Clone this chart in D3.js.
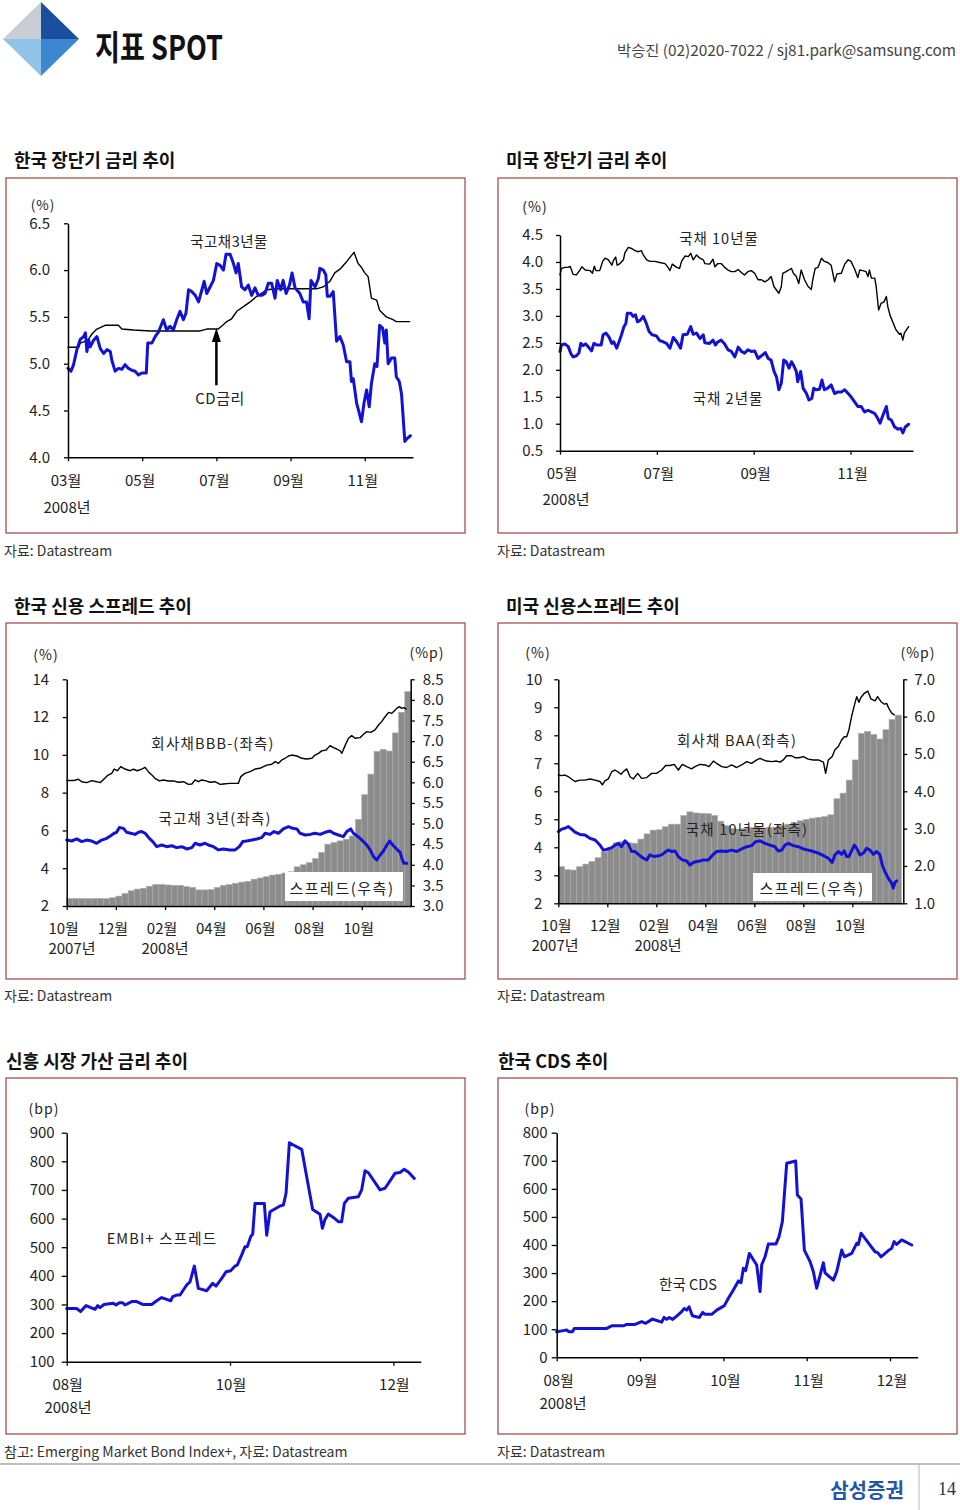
<!DOCTYPE html>
<html><head><meta charset="utf-8">
<script src="https://cdn.jsdelivr.net/npm/d3@7"></script>
<style>html,body{margin:0;padding:0;background:#fff;}svg{display:block;}</style>
</head><body>
<svg id="page" width="960" height="1510"></svg>
<script>
// ---------------- DATA (x = month index; 2008 months for charts 1,2,5,6; Oct-2007 = 10 ... Dec-2008 = 24 for charts 3,4) ----------------
const krCD = [[3.00,5.175],[3.29,5.175],[3.33,5.22],[3.53,5.25],[3.65,5.32],[3.78,5.37],[4.00,5.41],[4.36,5.41],[4.45,5.37],[4.77,5.36],[5.22,5.35],[6.56,5.35],[6.74,5.37],[7.05,5.37],[7.17,5.41],[7.28,5.45],[7.41,5.48],[7.55,5.56],[7.73,5.61],[7.91,5.66],[8.09,5.72],[8.36,5.79],[8.62,5.80],[9.70,5.80],[9.88,5.82],[10.06,5.88],[10.19,5.97],[10.33,6.01],[10.51,6.09],[10.71,6.19],[10.82,6.07],[10.91,6.03],[11.00,5.97],[11.09,5.93],[11.18,5.70],[11.32,5.68],[11.40,5.57],[11.58,5.50],[11.76,5.47],[11.85,5.45],[12.21,5.45]];
const krGov3y = [[3.00,4.95],[3.08,4.92],[3.15,4.99],[3.24,5.15],[3.33,5.26],[3.42,5.29],[3.47,5.33],[3.51,5.13],[3.56,5.25],[3.60,5.18],[3.69,5.25],[3.78,5.29],[3.87,5.16],[3.96,5.11],[4.05,5.15],[4.14,5.13],[4.18,5.04],[4.27,4.92],[4.36,4.95],[4.45,4.94],[4.54,4.99],[4.63,4.95],[4.72,4.93],[4.81,4.92],[4.90,4.88],[4.99,4.90],[5.11,4.90],[5.15,5.22],[5.26,5.22],[5.35,5.29],[5.44,5.34],[5.57,5.47],[5.66,5.36],[5.75,5.40],[5.84,5.36],[5.93,5.47],[6.02,5.56],[6.11,5.47],[6.18,5.54],[6.25,5.79],[6.34,5.77],[6.43,5.73],[6.52,5.66],[6.61,5.79],[6.67,5.88],[6.74,5.75],[6.83,5.82],[6.92,5.89],[7.01,6.07],[7.10,6.05],[7.19,6.00],[7.26,6.17],[7.37,6.17],[7.46,6.07],[7.53,5.97],[7.59,6.07],[7.68,5.82],[7.77,5.79],[7.86,5.84],[7.95,5.73],[8.04,5.81],[8.13,5.73],[8.22,5.73],[8.31,5.75],[8.40,5.86],[8.49,5.86],[8.58,5.70],[8.64,5.89],[8.73,5.79],[8.80,5.89],[8.88,5.75],[8.97,5.84],[9.04,5.97],[9.12,5.81],[9.25,5.75],[9.34,5.66],[9.43,5.66],[9.50,5.48],[9.55,5.89],[9.66,5.82],[9.75,5.91],[9.79,6.02],[9.88,6.00],[9.95,5.95],[9.99,5.72],[10.06,5.72],[10.15,5.77],[10.24,5.24],[10.33,5.29],[10.42,5.20],[10.51,5.02],[10.60,5.02],[10.64,4.81],[10.69,4.84],[10.78,4.58],[10.82,4.52],[10.91,4.38],[10.98,4.58],[11.05,4.72],[11.12,4.54],[11.18,4.79],[11.27,5.00],[11.33,4.97],[11.40,5.41],[11.48,5.38],[11.54,5.22],[11.58,5.36],[11.63,5.00],[11.72,5.06],[11.81,5.06],[11.85,4.86],[11.93,4.81],[11.99,4.68],[12.08,4.17],[12.14,4.20],[12.23,4.23]];

const usT10 = [[5.00,3.76],[5.03,3.88],[5.10,3.90],[5.17,3.90],[5.21,3.92],[5.27,3.77],[5.34,3.76],[5.41,3.85],[5.45,3.91],[5.52,3.85],[5.62,3.84],[5.67,3.79],[5.71,3.92],[5.74,3.84],[5.82,3.84],[5.88,4.01],[5.93,4.07],[6.00,4.04],[6.07,3.94],[6.11,4.04],[6.15,4.09],[6.18,3.94],[6.24,3.97],[6.31,4.04],[6.34,4.17],[6.41,4.27],[6.48,4.25],[6.55,4.21],[6.62,4.19],[6.68,4.21],[6.72,4.13],[6.79,4.04],[6.86,4.01],[6.96,4.01],[7.06,3.99],[7.17,3.97],[7.23,3.90],[7.27,3.84],[7.32,3.96],[7.41,3.90],[7.47,3.88],[7.51,4.01],[7.58,4.11],[7.65,4.10],[7.70,4.16],[7.75,4.04],[7.82,4.13],[7.89,4.07],[7.96,4.04],[7.99,3.97],[8.09,3.96],[8.16,4.05],[8.20,3.91],[8.26,3.97],[8.33,3.97],[8.40,3.90],[8.47,3.85],[8.54,3.82],[8.61,3.82],[8.68,3.86],[8.75,3.80],[8.81,3.76],[8.88,3.82],[8.95,3.84],[9.02,3.79],[9.09,3.67],[9.16,3.67],[9.23,3.63],[9.30,3.67],[9.36,3.73],[9.42,3.54],[9.47,3.48],[9.52,3.42],[9.57,3.54],[9.60,3.79],[9.67,3.82],[9.74,3.86],[9.78,3.88],[9.82,3.79],[9.88,3.73],[9.93,3.60],[9.98,3.85],[10.05,3.67],[10.12,3.55],[10.19,3.49],[10.22,3.67],[10.27,3.88],[10.33,3.90],[10.40,4.07],[10.46,4.01],[10.53,3.99],[10.60,3.94],[10.67,3.63],[10.72,3.78],[10.81,3.79],[10.88,3.96],[10.95,4.04],[11.01,4.01],[11.08,3.88],[11.15,3.71],[11.19,3.85],[11.25,3.84],[11.32,3.82],[11.36,3.73],[11.39,3.85],[11.43,3.70],[11.50,3.70],[11.53,3.54],[11.58,3.11],[11.63,3.23],[11.69,3.26],[11.74,3.36],[11.77,3.17],[11.82,3.00],[11.87,2.89],[11.94,2.74],[12.01,2.66],[12.04,2.68],[12.08,2.55],[12.11,2.68],[12.20,2.80]];
const usT2 = [[5.00,2.34],[5.03,2.46],[5.10,2.48],[5.17,2.43],[5.23,2.29],[5.27,2.24],[5.34,2.26],[5.39,2.31],[5.43,2.49],[5.48,2.45],[5.53,2.48],[5.58,2.43],[5.65,2.35],[5.70,2.49],[5.76,2.46],[5.85,2.46],[5.89,2.65],[5.95,2.68],[6.01,2.61],[6.07,2.49],[6.11,2.52],[6.17,2.40],[6.22,2.52],[6.27,2.65],[6.32,2.80],[6.36,2.86],[6.39,3.05],[6.46,3.05],[6.51,2.99],[6.56,3.02],[6.60,2.89],[6.66,2.92],[6.72,2.99],[6.77,2.89],[6.84,2.71],[6.90,2.65],[6.99,2.63],[7.06,2.54],[7.13,2.52],[7.20,2.49],[7.27,2.40],[7.34,2.60],[7.41,2.52],[7.49,2.40],[7.54,2.65],[7.63,2.66],[7.70,2.80],[7.75,2.66],[7.82,2.68],[7.89,2.58],[7.96,2.65],[7.99,2.50],[8.09,2.49],[8.16,2.55],[8.21,2.46],[8.26,2.52],[8.33,2.55],[8.40,2.48],[8.47,2.37],[8.54,2.34],[8.61,2.24],[8.68,2.42],[8.75,2.34],[8.81,2.31],[8.88,2.37],[8.95,2.34],[9.02,2.35],[9.09,2.21],[9.16,2.26],[9.24,2.32],[9.30,2.21],[9.36,2.18],[9.42,1.97],[9.47,1.87],[9.52,1.63],[9.57,1.75],[9.62,2.18],[9.67,2.15],[9.73,2.03],[9.78,2.15],[9.82,2.09],[9.88,1.97],[9.91,1.78],[9.97,1.97],[10.02,1.66],[10.09,1.56],[10.14,1.44],[10.20,1.47],[10.24,1.66],[10.29,1.63],[10.36,1.64],[10.41,1.81],[10.46,1.63],[10.53,1.66],[10.60,1.72],[10.67,1.56],[10.74,1.59],[10.81,1.59],[10.88,1.63],[10.95,1.56],[11.01,1.50],[11.08,1.41],[11.15,1.32],[11.22,1.32],[11.29,1.22],[11.36,1.25],[11.43,1.22],[11.50,1.19],[11.56,1.10],[11.61,1.01],[11.67,1.16],[11.74,1.32],[11.78,1.10],[11.84,1.07],[11.91,0.94],[11.98,0.90],[12.04,0.91],[12.08,0.83],[12.13,0.94],[12.20,0.99]];

const krBBB = [[10.00,8.64],[10.27,8.64],[10.47,8.71],[10.61,8.58],[10.81,8.53],[11.02,8.64],[11.22,8.58],[11.36,8.53],[11.52,8.72],[11.65,8.90],[11.83,9.02],[11.93,9.25],[12.06,9.16],[12.20,9.38],[12.37,9.25],[12.58,9.16],[12.71,9.24],[12.87,9.16],[13.05,9.25],[13.19,9.34],[13.32,9.11],[13.46,8.94],[13.59,8.76],[13.77,8.62],[13.93,8.67],[14.14,8.62],[14.34,8.62],[14.54,8.55],[14.75,8.58],[14.95,8.44],[15.09,8.46],[15.22,8.67],[15.36,8.58],[15.49,8.67],[15.67,8.62],[15.83,8.55],[16.03,8.58],[16.24,8.44],[16.37,8.46],[16.64,8.49],[16.98,8.49],[17.08,8.85],[17.25,9.02],[17.46,9.11],[17.66,9.25],[17.86,9.29],[18.00,9.38],[18.14,9.46],[18.34,9.50],[18.48,9.64],[18.61,9.55],[18.75,9.73],[18.88,9.82],[19.02,9.94],[19.15,9.99],[19.36,9.94],[19.56,9.82],[19.76,9.78],[19.97,9.82],[20.10,9.99],[20.24,10.08],[20.37,10.21],[20.55,10.26],[20.71,10.49],[20.85,10.38],[20.98,10.31],[21.12,10.21],[21.19,10.08],[21.32,10.49],[21.46,10.88],[21.59,11.02],[21.73,10.88],[21.93,10.91],[22.07,11.09],[22.20,11.23],[22.37,11.19],[22.54,11.32],[22.68,11.58],[22.81,11.76],[22.95,12.02],[23.09,12.25],[23.22,12.20],[23.32,12.32],[23.42,12.46],[23.53,12.55],[23.63,12.46],[23.72,12.50],[23.80,12.43]];
const krGov3yLong = [[10.00,5.49],[10.20,5.44],[10.41,5.55],[10.61,5.41],[10.81,5.49],[11.02,5.44],[11.22,5.32],[11.42,5.49],[11.63,5.58],[11.79,5.72],[11.93,5.85],[12.03,5.90],[12.14,6.15],[12.31,6.11],[12.44,5.90],[12.60,5.85],[12.78,5.79],[12.92,5.90],[13.05,5.94],[13.19,5.85],[13.36,5.58],[13.50,5.41],[13.66,5.14],[13.86,5.23],[14.07,5.14],[14.27,5.19],[14.47,5.09],[14.68,5.14],[14.88,5.02],[15.09,5.09],[15.22,5.32],[15.42,5.23],[15.63,5.32],[15.76,5.23],[15.97,5.14],[16.17,4.97],[16.37,5.02],[16.64,4.97],[16.85,4.97],[17.02,5.14],[17.16,5.41],[17.32,5.44],[17.53,5.49],[17.73,5.55],[17.93,5.62],[18.07,5.85],[18.27,5.79],[18.43,5.94],[18.61,5.85],[18.81,6.08],[19.02,6.20],[19.19,6.11],[19.36,6.08],[19.49,5.85],[19.70,5.76],[19.90,5.79],[20.10,5.85],[20.31,5.79],[20.51,5.90],[20.71,5.97],[20.85,5.85],[21.05,5.76],[21.25,5.67],[21.39,5.94],[21.55,6.08],[21.66,5.85],[21.80,5.72],[21.93,5.58],[22.07,5.41],[22.20,5.23],[22.34,4.97],[22.48,4.61],[22.61,4.44],[22.75,4.70],[22.88,4.91],[23.02,5.23],[23.13,5.44],[23.26,5.23],[23.42,5.02],[23.56,4.84],[23.63,4.52],[23.72,4.26],[23.83,4.26]];
const krSpread = [[10.00,3.18],[10.25,3.18],[10.50,3.18],[10.75,3.18],[11.00,3.18],[11.25,3.18],[11.50,3.18],[11.75,3.20],[12.00,3.24],[12.25,3.30],[12.50,3.37],[12.75,3.41],[13.00,3.43],[13.25,3.48],[13.50,3.52],[13.75,3.52],[14.00,3.51],[14.25,3.50],[14.50,3.50],[14.75,3.47],[15.00,3.45],[15.25,3.39],[15.50,3.39],[15.75,3.40],[16.00,3.45],[16.25,3.50],[16.50,3.52],[16.75,3.55],[17.00,3.58],[17.25,3.60],[17.50,3.65],[17.75,3.68],[18.00,3.71],[18.25,3.75],[18.50,3.77],[18.75,3.80],[19.00,3.83],[19.25,3.95],[19.50,4.00],[19.75,4.05],[20.00,4.15],[20.25,4.30],[20.50,4.50],[20.75,4.54],[21.00,4.58],[21.25,4.62],[21.50,4.70],[21.75,5.10],[22.00,5.70],[22.25,6.20],[22.50,6.75],[22.75,6.80],[23.00,6.76],[23.25,7.20],[23.50,7.70],[23.75,8.20]];

const usBAA = [[10.00,6.58],[10.14,6.56],[10.27,6.58],[10.41,6.52],[10.54,6.44],[10.68,6.35],[10.88,6.40],[11.09,6.40],[11.29,6.44],[11.50,6.40],[11.70,6.35],[11.80,6.23],[11.90,6.37],[12.04,6.44],[12.18,6.70],[12.31,6.76],[12.45,6.68],[12.56,6.61],[12.65,6.70],[12.79,6.80],[12.93,6.52],[13.06,6.44],[13.24,6.64],[13.40,6.46],[13.61,6.49],[13.81,6.64],[14.01,6.64],[14.22,6.76],[14.38,6.92],[14.56,6.92],[14.73,6.96],[14.90,6.76],[15.06,6.96],[15.24,6.88],[15.44,6.80],[15.58,6.88],[15.78,6.96],[15.99,6.94],[16.15,6.88],[16.33,7.08],[16.46,7.00],[16.67,6.88],[16.87,6.85],[17.07,6.94],[17.28,6.85],[17.48,6.94],[17.69,7.06],[17.89,7.00],[18.10,7.12],[18.23,7.18],[18.37,7.12],[18.50,7.08],[18.71,7.06],[18.91,7.08],[19.05,7.04],[19.18,7.12],[19.32,7.27],[19.52,7.27],[19.66,7.20],[19.82,7.20],[20.00,7.24],[20.20,7.15],[20.41,7.12],[20.61,7.12],[20.82,7.04],[20.91,6.64],[21.02,7.12],[21.18,7.24],[21.29,7.48],[21.43,7.60],[21.56,7.83],[21.67,7.95],[21.77,7.95],[21.86,8.19],[21.97,8.67],[22.08,9.06],[22.18,9.38],[22.27,9.18],[22.35,9.35],[22.49,9.50],[22.63,9.58],[22.76,9.30],[22.93,9.23],[23.03,9.38],[23.17,9.20],[23.31,9.11],[23.40,9.14],[23.50,8.94],[23.61,8.79],[23.71,8.73]];
const usT10Long = [[10.00,4.56],[10.14,4.65],[10.27,4.68],[10.41,4.74],[10.54,4.65],[10.68,4.54],[10.88,4.46],[11.09,4.44],[11.29,4.32],[11.50,4.26],[11.70,4.08],[11.84,3.90],[12.04,3.94],[12.18,3.99],[12.31,4.08],[12.45,4.14],[12.58,4.02],[12.72,4.23],[12.86,4.11],[12.99,3.85],[13.13,3.85],[13.29,3.73],[13.47,3.61],[13.61,3.55],[13.74,3.73],[13.92,3.67],[14.08,3.70],[14.22,3.73],[14.35,3.82],[14.49,3.90],[14.63,3.85],[14.76,3.87],[14.90,3.67],[15.06,3.55],[15.24,3.51],[15.37,3.37],[15.51,3.46],[15.65,3.49],[15.78,3.51],[15.92,3.55],[16.12,3.55],[16.33,3.75],[16.46,3.85],[16.67,3.87],[16.87,3.85],[17.07,3.90],[17.28,3.85],[17.48,3.94],[17.69,4.02],[17.89,4.06],[18.05,4.20],[18.23,4.23],[18.44,4.14],[18.64,4.08],[18.84,4.02],[18.98,3.87],[19.12,3.90],[19.25,4.08],[19.39,4.14],[19.59,4.06],[19.80,4.02],[20.00,3.94],[20.20,3.90],[20.41,3.85],[20.61,3.79],[20.82,3.70],[21.02,3.61],[21.18,3.46],[21.29,3.73],[21.43,3.85],[21.56,3.75],[21.67,3.87],[21.77,3.67],[21.86,3.67],[21.97,3.87],[22.08,4.08],[22.18,3.96],[22.31,3.73],[22.45,3.79],[22.58,3.96],[22.72,3.90],[22.86,3.75],[22.99,3.85],[23.13,3.73],[23.22,3.37],[23.33,3.13],[23.47,2.89],[23.61,2.71],[23.67,2.54],[23.74,2.75],[23.81,2.80]];
const usSpread = [[10.00,1.98],[10.25,1.90],[10.50,1.89],[10.75,1.98],[11.00,2.05],[11.25,2.12],[11.50,2.22],[11.75,2.38],[12.00,2.50],[12.25,2.62],[12.50,2.65],[12.75,2.62],[13.00,2.61],[13.25,2.72],[13.50,2.86],[13.75,2.96],[14.00,2.97],[14.25,3.05],[14.50,3.12],[14.75,3.12],[15.00,3.35],[15.25,3.45],[15.50,3.42],[15.75,3.41],[16.00,3.40],[16.25,3.35],[16.50,3.20],[16.75,3.08],[17.00,3.00],[17.25,2.99],[17.50,3.01],[17.75,3.03],[18.00,3.05],[18.25,3.02],[18.50,3.03],[18.75,3.04],[19.00,3.08],[19.25,3.12],[19.50,3.17],[19.75,3.21],[20.00,3.25],[20.25,3.28],[20.50,3.30],[20.75,3.32],[21.00,3.37],[21.25,3.80],[21.50,3.95],[21.75,4.30],[22.00,4.84],[22.25,5.55],[22.50,5.60],[22.75,5.52],[23.00,5.40],[23.25,5.65],[23.50,5.92],[23.75,6.04]];

const embiSpread = [[8.000,286],[8.122,286],[8.171,275],[8.237,296],[8.347,283],[8.380,296],[8.408,289],[8.457,300],[8.571,304],[8.604,298],[8.645,306],[8.686,306],[8.714,298],[8.796,310],[8.857,310],[8.931,300],[9.041,300],[9.102,313],[9.163,324],[9.225,318],[9.274,313],[9.298,327],[9.347,333],[9.388,333],[9.469,368],[9.510,379],[9.563,434],[9.612,356],[9.714,348],[9.788,374],[9.829,364],[9.898,391],[9.951,414],[10.008,418],[10.061,434],[10.090,438],[10.143,473],[10.184,502],[10.212,502],[10.253,537],[10.278,546],[10.306,653],[10.420,653],[10.449,542],[10.490,624],[10.612,644],[10.653,647],[10.686,688],[10.727,865],[10.776,857],[10.878,842],[10.939,746],[11.012,632],[11.102,615],[11.131,566],[11.163,597],[11.204,616],[11.265,604],[11.327,589],[11.367,589],[11.400,653],[11.449,671],[11.571,676],[11.612,700],[11.653,767],[11.694,760],[11.837,700],[11.898,706],[11.939,723],[12.020,758],[12.082,761],[12.131,772],[12.184,763],[12.257,740]];
const krCDS = [[8.000,91],[8.080,95],[8.120,97],[8.148,91],[8.188,91],[8.212,103],[8.300,103],[8.600,103],[8.660,112],[8.800,112],[8.840,117],[8.940,117],[9.020,127],[9.068,121],[9.148,136],[9.212,130],[9.260,125],[9.288,142],[9.320,135],[9.352,142],[9.392,135],[9.440,147],[9.500,163],[9.532,174],[9.560,168],[9.588,180],[9.628,148],[9.712,142],[9.752,160],[9.780,153],[9.860,153],[9.920,168],[10.012,184],[10.060,210],[10.120,240],[10.180,272],[10.212,266],[10.240,317],[10.268,309],[10.312,370],[10.400,329],[10.440,234],[10.460,329],[10.500,358],[10.540,404],[10.632,404],[10.668,430],[10.708,483],[10.760,691],[10.868,699],[10.888,578],[10.932,564],[10.972,382],[11.040,341],[11.080,305],[11.120,246],[11.200,337],[11.220,301],[11.320,275],[11.360,305],[11.420,382],[11.452,358],[11.540,370],[11.600,406],[11.620,402],[11.652,442],[11.708,420],[11.820,376],[11.852,373],[11.892,358],[11.980,380],[12.020,388],[12.048,412],[12.080,402],[12.140,418],[12.260,400]];

// ---- tick values / labels ----
const kr1YTicks = [4.0,4.5,5.0,5.5,6.0,6.5];
const kr1XTicks = [3,5,7,9,11];
const kr1XLabels = ["03월","05월","07월","09월","11월"];
const us1YTicks = [0.5,1.0,1.5,2.0,2.5,3.0,3.5,4.0,4.5];
const us1XTicks = [5,7,9,11];
const us1XLabels = ["05월","07월","09월","11월"];
const kr2YLeft = [2,4,6,8,10,12,14];
const kr2YRight = [3.0,3.5,4.0,4.5,5.0,5.5,6.0,6.5,7.0,7.5,8.0,8.5];
const us2YLeft = [2,3,4,5,6,7,8,9,10];
const us2YRight = [1.0,2.0,3.0,4.0,5.0,6.0,7.0];
const longXTicks = [10,12,14,16,18,20,22];
const longXLabels = ["10월","12월","02월","04월","06월","08월","10월"];
const emYTicks = [100,200,300,400,500,600,700,800,900];
const emXTicks = [8,10,12];
const emXLabels = ["08월","10월","12월"];
const cdsYTicks = [0,100,200,300,400,500,600,700,800];
const cdsXTicks = [8,9,10,11,12];
const cdsXLabels = ["08월","09월","10월","11월","12월"];

// ---------------- DRAWING ----------------
const svg = d3.select('#page');
const FONT = "'Noto Sans CJK KR','Noto Sans',sans-serif";
const BLUE = '#1212d6';
const BORDER = '#a85050';

function txt(x, y, s, o = {}) {
  const t = svg.append('text').attr('x', x).attr('y', y)
    .attr('dominant-baseline', 'central')
    .attr('text-anchor', o.anchor || 'middle')
    .attr('font-family', o.font || FONT)
    .attr('font-size', o.size || 14.5)
    .attr('font-weight', o.weight || 400)
    .attr('fill', o.fill || '#222')
    .attr('letter-spacing', o.ls || 0)
    .text(s);
  if (o.len) t.attr('textLength', o.len).attr('lengthAdjust', 'spacingAndGlyphs');
  return t;
}

function styleAxis(g) {
  g.select('.domain').attr('stroke', '#000').attr('stroke-width', 1.5);
  g.selectAll('.tick line').attr('stroke', '#000').attr('stroke-width', 1.3);
  g.selectAll('text').attr('font-family', FONT).attr('font-size', 15).attr('fill', '#222');
}

function makeChart(c) {
  const x = d3.scaleLinear().domain(c.xDomain).range([c.left, c.right]);
  const y = d3.scaleLinear().domain(c.yDomain).range([c.bottom, c.top]);
  const y2 = c.y2Domain ? d3.scaleLinear().domain(c.y2Domain).range([c.bottom, c.top]) : null;
  const g = svg.append('g');
  const marks = g.append('g');
  const gx = g.append('g').attr('transform', `translate(0,${c.bottom})`)
    .call(d3.axisBottom(x).tickValues(c.xTicks).tickFormat('').tickSize(4).tickSizeOuter(0));
  styleAxis(gx);
  c.xTicks.forEach((v, i) => txt(x(v) + (c.xLabelDx || 0), c.xLabelY, c.xLabels[i], {size: 15}));
  const gy = g.append('g').attr('transform', `translate(${c.left},0)`)
    .call(d3.axisLeft(y).tickValues(c.yTicks).tickFormat(c.yFmt).tickSize(c.tick || 4).tickSizeOuter(0).tickPadding(c.pad));
  styleAxis(gy);
  if (y2) {
    const gy2 = g.append('g').attr('transform', `translate(${c.right},0)`)
      .call(d3.axisRight(y2).tickValues(c.y2Ticks).tickFormat(c.y2Fmt).tickSize(4).tickSizeOuter(0).tickPadding(c.pad2));
    styleAxis(gy2);
  }
  return {x, y, y2, marks};
}

function drawLine(ch, data, color, width, scale) {
  const ys = scale || ch.y;
  ch.marks.append('path').datum(data)
    .attr('fill', 'none').attr('stroke', color).attr('stroke-width', width)
    .attr('stroke-linejoin', 'round').attr('stroke-linecap', 'round')
    .attr('d', d3.line().x(d => ch.x(d[0])).y(d => ys(d[1])));
}

function drawBars(ch, data) {
  const base = ch.y2.domain()[0];
  ch.marks.append('g').selectAll('rect').data(data).join('rect')
    .attr('x', d => ch.x(d[0]))
    .attr('width', (d, i) => {
      const nx = i < data.length - 1 ? data[i + 1][0] : d[0] + (d[0] - data[i - 1][0]);
      return ch.x(nx) - ch.x(d[0]);
    })
    .attr('y', d => ch.y2(d[1]))
    .attr('height', d => ch.y2(base) - ch.y2(d[1]))
    .attr('fill', '#8c8c8c').attr('stroke', '#ababab').attr('stroke-width', 0.6);
}

// ----- Header -----
const cx = 41, cy = 39, hw = 38, hh = 37;
const quads = [
  [[cx - hw, cy], [cx, cy - hh], [cx, cy], '#c8ced6'],
  [[cx, cy - hh], [cx + hw, cy], [cx, cy], '#1b4e9e'],
  [[cx - hw, cy], [cx, cy], [cx, cy + hh], '#92c4ea'],
  [[cx, cy], [cx + hw, cy], [cx, cy + hh], '#3b88d0']
];
quads.forEach(q => svg.append('path').attr('d', `M${q[0]}L${q[1]}L${q[2]}Z`).attr('fill', q[3]));
txt(95, 45, '지표 SPOT', {anchor: 'start', size: 34, weight: 700, fill: '#111', len: 128});
txt(956, 49, '박승진 (02)2020-7022 / sj81.park@samsung.com', {anchor: 'end', size: 15, fill: '#444', len: 339});

// ----- Section titles, boxes, sources -----
const titles = [
  [14, 159, '한국 장단기 금리 추이'], [506, 159, '미국 장단기 금리 추이'],
  [14, 605, '한국 신용 스프레드 추이'], [506, 605, '미국 신용스프레드 추이'],
  [6, 1060, '신흥 시장 가산 금리 추이'], [498, 1060, '한국 CDS 추이']
];
titles.forEach(t => txt(t[0], t[1], t[2], {anchor: 'start', size: 18, weight: 700, fill: '#111'}));
const boxes = [[6, 178, 459, 355], [498, 178, 459, 355], [6, 623, 459, 356], [498, 623, 459, 356], [6, 1078, 459, 356], [498, 1078, 459, 356]];
boxes.forEach(b => svg.append('rect').attr('x', b[0]).attr('y', b[1]).attr('width', b[2]).attr('height', b[3])
  .attr('fill', 'none').attr('stroke', BORDER).attr('stroke-width', 1.3));
const sources = [
  [4, 550, '자료: Datastream'], [497, 550, '자료: Datastream'],
  [4, 995, '자료: Datastream'], [497, 995, '자료: Datastream'],
  [4, 1451, '참고: Emerging Market Bond Index+,  자료: Datastream'], [497, 1451, '자료: Datastream']
];
sources.forEach(s => txt(s[0], s[1], s[2], {anchor: 'start', size: 14, fill: '#333'}));

// ----- Chart 1: Korea short/long rates -----
const c1 = makeChart({left: 68, right: 413, top: 223.3, bottom: 457.3, xDomain: [3, 12.30], yDomain: [4.0, 6.5],
  yTicks: kr1YTicks, yFmt: d3.format('.1f'), pad: 14, xTicks: kr1XTicks, xLabels: kr1XLabels, xLabelY: 479, xLabelDx: -2});
drawLine(c1, krCD, '#000', 1.4);
drawLine(c1, krGov3y, BLUE, 3);
const arr = [[7.0, 4.77], [7.0, 5.30]];
c1.marks.append('line').attr('x1', c1.x(arr[0][0])).attr('y1', c1.y(arr[0][1]))
  .attr('x2', c1.x(arr[1][0])).attr('y2', c1.y(arr[1][1])).attr('stroke', '#000').attr('stroke-width', 2.5);
const ax = c1.x(7.0), ay = c1.y(5.36);
c1.marks.append('path').attr('d', `M${ax},${ay - 2}L${ax - 4.5},${ay + 12}L${ax + 4.5},${ay + 12}Z`).attr('fill', '#000');
txt(43, 204, '(%)', {size: 13.5, ls: 1});
txt(67, 506, '2008년', {size: 15});
txt(229, 240, '국고채3년물', {size: 14.5, ls: 0.5});
txt(220, 397, 'CD금리', {size: 15, ls: 0.5});

// ----- Chart 2: US short/long rates -----
const c2 = makeChart({left: 560, right: 913, top: 235, bottom: 450.7, xDomain: [5, 12.29], yDomain: [0.5, 4.5],
  yTicks: us1YTicks, yFmt: d3.format('.1f'), pad: 13, xTicks: us1XTicks, xLabels: us1XLabels, xLabelY: 472, xLabelDx: 2});
drawLine(c2, usT10, '#000', 1.4);
drawLine(c2, usT2, BLUE, 3);
txt(535, 206, '(%)', {size: 14, ls: 1});
txt(566, 498, '2008년', {size: 15});
txt(719, 237, '국채 10년물', {size: 14.5, ls: 1});
txt(728, 397, '국채 2년물', {size: 14.5, ls: 1});

// ----- Chart 3: Korea credit spread -----
const c3 = makeChart({left: 66.7, right: 410.7, top: 679.3, bottom: 906, xDomain: [10, 23.99], yDomain: [2, 14],
  yTicks: kr2YLeft, yFmt: d3.format('d'), pad: 13.5, y2Domain: [3, 8.5], y2Ticks: kr2YRight, y2Fmt: d3.format('.1f'), pad2: 8,
  xTicks: longXTicks, xLabels: longXLabels, xLabelY: 927, xLabelDx: -3});
drawBars(c3, krSpread);
c3.marks.append('rect').attr('x', 285).attr('y', 872).attr('width', 118).attr('height', 29).attr('fill', '#fff');
drawLine(c3, krBBB, '#000', 1.4);
drawLine(c3, krGov3yLong, BLUE, 3);
txt(46, 654, '(%)', {size: 14, ls: 1});
txt(427, 652, '(%p)', {size: 14, ls: 1});
txt(72, 947, '2007년', {size: 15});
txt(165, 947, '2008년', {size: 15});
txt(213, 742, '회사채BBB-(좌측)', {size: 14.5, ls: 1.2});
txt(215, 817, '국고채 3년(좌측)', {size: 14.5, ls: 1.2});
txt(342, 887, '스프레드(우측)', {size: 15, ls: 1.5});

// ----- Chart 4: US credit spread -----
const c4 = makeChart({left: 558.3, right: 903.3, top: 679.3, bottom: 903.3, xDomain: [10, 24.08], yDomain: [2, 10],
  yTicks: us2YLeft, yFmt: d3.format('d'), pad: 12, y2Domain: [1, 7], y2Ticks: us2YRight, y2Fmt: d3.format('.1f'), pad2: 7,
  xTicks: longXTicks, xLabels: longXLabels, xLabelY: 924, xLabelDx: -2});
drawBars(c4, usSpread);
c4.marks.append('rect').attr('x', 753).attr('y', 873).attr('width', 119).attr('height', 28).attr('fill', '#fff');
drawLine(c4, usBAA, '#000', 1.4);
drawLine(c4, usT10Long, BLUE, 3);
txt(538, 652, '(%)', {size: 14, ls: 1});
txt(918, 652, '(%p)', {size: 14, ls: 1});
txt(555, 944, '2007년', {size: 15});
txt(658, 944, '2008년', {size: 15});
txt(737, 739, '회사채 BAA(좌측)', {size: 14.5, ls: 1.2});
txt(747, 828, '국채 10년물(좌측)', {size: 14.5, ls: 1.2});
txt(812, 887, '스프레드(우측)', {size: 15, ls: 1.5});

// ----- Chart 5: EMBI+ spread -----
const c5 = makeChart({left: 66.7, right: 420.7, top: 1132.7, bottom: 1361.7, xDomain: [8, 12.335], yDomain: [100, 900],
  yTicks: emYTicks, yFmt: d3.format('d'), pad: 7, tick: 5, xTicks: emXTicks, xLabels: emXLabels, xLabelY: 1383, xLabelDx: 1});
drawLine(c5, embiSpread, BLUE, 3);
txt(44, 1108, '(bp)', {size: 14, ls: 1});
txt(68, 1406, '2008년', {size: 15});
txt(162, 1237, 'EMBI+ 스프레드', {size: 14.5, ls: 1.2});

// ----- Chart 6: Korea CDS -----
const c6 = makeChart({left: 556.7, right: 917.7, top: 1132.7, bottom: 1357.3, xDomain: [8, 12.332], yDomain: [0, 800],
  yTicks: cdsYTicks, yFmt: d3.format('d'), pad: 4, tick: 5, xTicks: cdsXTicks, xLabels: cdsXLabels, xLabelY: 1379, xLabelDx: 2});
drawLine(c6, krCDS, BLUE, 3);
txt(540, 1108, '(bp)', {size: 14, ls: 1});
txt(563, 1402, '2008년', {size: 15});
txt(688, 1283, '한국 CDS', {size: 14.5});

// ----- Footer -----
svg.append('line').attr('x1', 0).attr('x2', 960).attr('y1', 1464).attr('y2', 1464).attr('stroke', '#a8a8a8').attr('stroke-width', 1.5);
svg.append('line').attr('x1', 919).attr('x2', 919).attr('y1', 1464).attr('y2', 1510).attr('stroke', '#b5b5b5').attr('stroke-width', 1);
txt(867, 1489, '삼성증권', {size: 20, weight: 700, fill: '#2356a8'});
txt(947, 1489, '14', {size: 18, font: "'Liberation Serif','DejaVu Serif',serif", fill: '#333'});
</script>
</body></html>
